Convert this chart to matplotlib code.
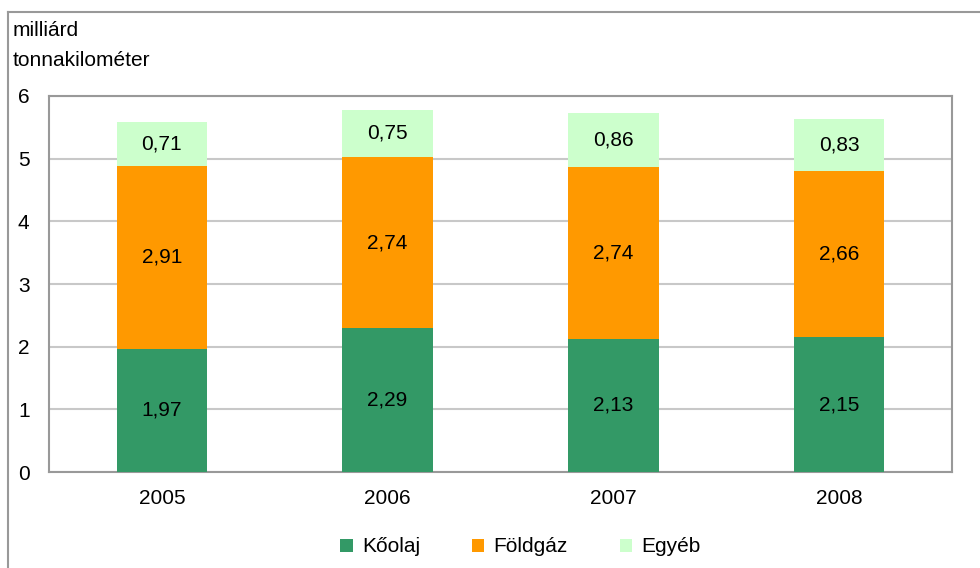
import matplotlib
matplotlib.use("Agg")
import matplotlib.pyplot as plt
from matplotlib.lines import Line2D
import numpy as np

years = ["2005", "2006", "2007", "2008"]
koolaj = [1.97, 2.29, 2.13, 2.15]
foldgaz = [2.91, 2.74, 2.74, 2.66]
egyeb = [0.71, 0.75, 0.86, 0.83]
series_names = ["Kőolaj", "Földgáz", "Egyéb"]
colors = ["#339966", "#FF9900", "#CCFFCC"]
yticks = [0, 1, 2, 3, 4, 5, 6]

plt.rcParams['font.family'] = ['Liberation Sans', 'DejaVu Sans']
FS = 15

fig = plt.figure(figsize=(9.8, 5.68), dpi=100)
ax = fig.add_axes([0.05, 0.169, 0.9214, 0.662])

x = np.arange(len(years))
w = 0.4
bottom = np.zeros(len(years))
for vals, name, c in zip([koolaj, foldgaz, egyeb], series_names, colors):
    vals = np.array(vals)
    ax.bar(x, vals, w, bottom=bottom, color=c, label=name, zorder=3)
    for xi, b, v in zip(x, bottom, vals):
        ax.text(xi, b + v / 2, f"{v:.2f}".replace(".", ","), ha="center", va="center",
                fontsize=FS, color="black", zorder=4)
    bottom = bottom + vals

ax.set_xlim(-0.5, len(years) - 0.5)
ax.set_ylim(0, 6)
ax.set_yticks(yticks)
ax.set_yticklabels([str(t) for t in yticks], fontsize=FS)
ax.set_xticks(x)
ax.set_xticklabels(years, fontsize=FS)
ax.tick_params(axis='both', length=0)
ax.tick_params(axis='y', pad=14)
ax.tick_params(axis='x', pad=12)
ax.grid(axis='y', color='#C8C8C8', linewidth=1.5, zorder=0)
for s in ax.spines.values():
    s.set_color('#999999')
    s.set_linewidth(1.5)

fig.text(13 / 980, 1 - 31 / 568, "milliárd", fontsize=FS, va="center", ha="left")
fig.text(13 / 980, 1 - 61 / 568, "tonnakilométer", fontsize=FS, va="center", ha="left")

leg = fig.legend(loc="center", bbox_to_anchor=(0.531, 1 - 547 / 568), ncol=3, frameon=False,
                 fontsize=FS, handlelength=0.6, handleheight=0.6, handletextpad=0.43,
                 columnspacing=2.5)

fig.add_artist(Line2D([8 / 980, 8 / 980], [0, 1 - 12 / 568], transform=fig.transFigure,
                      color='#999999', linewidth=1.5))
fig.add_artist(Line2D([8 / 980, 1], [1 - 12 / 568, 1 - 12 / 568], transform=fig.transFigure,
                      color='#999999', linewidth=1.5))

fig.savefig("out.png", dpi=100)
